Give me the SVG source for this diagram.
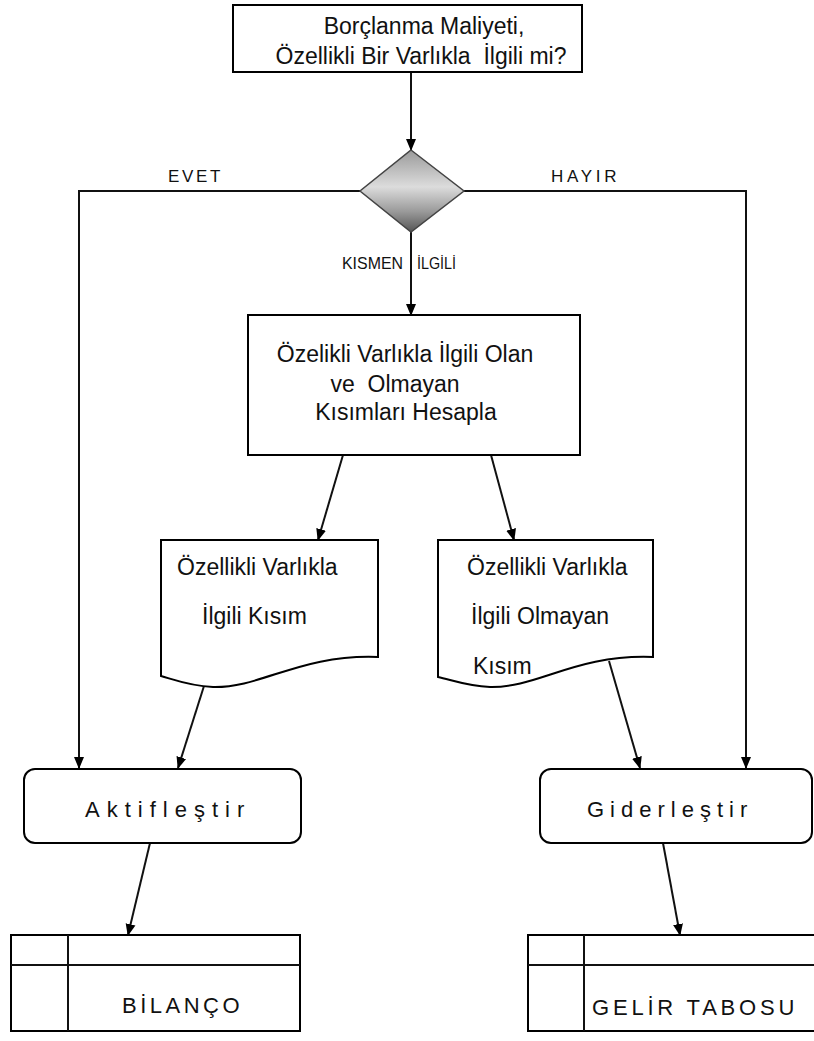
<svg xmlns="http://www.w3.org/2000/svg" width="814" height="1041" viewBox="0 0 814 1041">
<style>
.box{fill:#fff;stroke:#000;stroke-width:2}
.t{font-family:"Liberation Sans",Arial,sans-serif;font-size:23px;fill:#111;text-anchor:middle}
.tl{font-family:"Liberation Sans",Arial,sans-serif;font-size:23px;fill:#111}
.sp{font-family:"Liberation Sans",Arial,sans-serif;font-size:22px;fill:#111}
.lbl{font-family:"Liberation Sans",Arial,sans-serif;font-size:17px;fill:#111;letter-spacing:2.7px}
.ks{font-family:"Liberation Sans",Arial,sans-serif;font-size:17px;fill:#111}
.cn{fill:none;stroke:#111;stroke-width:2}
</style>
<defs>
<marker id="ah" markerUnits="userSpaceOnUse" markerWidth="12" markerHeight="12" viewBox="0 0 12 12" refX="11" refY="6" orient="auto">
<path d="M0,1 L12,6 L0,11 Z" fill="#000"/>
</marker>
<linearGradient id="dg" x1="0" y1="0" x2="0" y2="1">
<stop offset="0" stop-color="#9a9a9a"/>
<stop offset="0.45" stop-color="#dcdcdc"/>
<stop offset="0.75" stop-color="#9a9a9a"/>
<stop offset="1" stop-color="#555"/>
</linearGradient>
</defs>
<g id="connectors">
<line class="cn" x1="411" y1="72" x2="411" y2="150" marker-end="url(#ah)"/>
<polyline class="cn" points="360,191 79,191 79,768" marker-end="url(#ah)"/>
<polyline class="cn" points="464,191 746,191 746,768" marker-end="url(#ah)"/>
<line class="cn" x1="411" y1="232" x2="411" y2="315" marker-end="url(#ah)"/>
<line class="cn" x1="343" y1="455" x2="318" y2="540" marker-end="url(#ah)"/>
<line class="cn" x1="491" y1="455" x2="514" y2="540" marker-end="url(#ah)"/>
<line class="cn" x1="204" y1="686" x2="178" y2="768" marker-end="url(#ah)"/>
<line class="cn" x1="609" y1="661" x2="640" y2="768" marker-end="url(#ah)"/>
<line class="cn" x1="150" y1="843" x2="128" y2="935" marker-end="url(#ah)"/>
<line class="cn" x1="663" y1="843" x2="680" y2="935" marker-end="url(#ah)"/>
<text class="lbl" x="168" y="182">EVET</text>
<text class="lbl" x="551" y="182" style="letter-spacing:3.7px">HAYIR</text>
<text class="ks" x="342" y="269" textLength="61" lengthAdjust="spacingAndGlyphs">KISMEN</text>
<text class="ks" x="417" y="269" textLength="39" lengthAdjust="spacingAndGlyphs">İLGİLİ</text>
</g>
<g id="start">
<rect class="box" x="233" y="5" width="349" height="67"/>
<text class="t" x="424" y="34">Borçlanma Maliyeti,</text>
<text class="t" x="421" y="64" xml:space="preserve">Özellikli Bir Varlıkla  İlgili mi?</text>
</g>
<g id="decision">
<polygon points="411,150 464,191 411,232 360,191" fill="url(#dg)" stroke="#444" stroke-width="1.5"/>
</g>
<g id="calculate">
<rect class="box" x="248" y="315" width="332" height="140"/>
<text class="t" x="405" y="362">Özelikli Varlıkla İlgili Olan</text>
<text class="t" x="395" y="392" xml:space="preserve">ve  Olmayan</text>
<text class="t" x="406" y="420">Kısımları Hesapla</text>
</g>
<g id="doc-related">
<path class="box" d="M161,540 H378 V657 C300,654 262,688 213,687 C190,686 175,680 161,676 Z"/>
<text class="tl" x="177" y="575">Özellikli Varlıkla</text>
<text class="tl" x="202" y="624">İlgili Kısım</text>
</g>
<g id="doc-unrelated">
<path class="box" d="M438,540 H653 V657 C575,654 538,688 490,687 C467,686 452,680 438,677 Z"/>
<text class="tl" x="467" y="575">Özellikli Varlıkla</text>
<text class="tl" x="471" y="624">İlgili Olmayan</text>
<text class="tl" x="473" y="674">Kısım</text>
</g>
<g id="capitalize">
<rect class="box" x="24" y="769" width="277" height="74" rx="11"/>
<text class="sp" x="85" y="817" style="letter-spacing:7px">Aktifleştir</text>
</g>
<g id="expense">
<rect class="box" x="540" y="769" width="272" height="74" rx="11"/>
<text class="sp" x="587" y="817" style="letter-spacing:6px">Giderleştir</text>
</g>
<g id="balance">
<rect class="box" x="11" y="935" width="289" height="96"/>
<line class="cn" x1="11" y1="965" x2="300" y2="965"/>
<line class="cn" x1="68" y1="935" x2="68" y2="1031"/>
<text class="sp" x="122" y="1013" style="letter-spacing:3.5px">BİLANÇO</text>
</g>
<g id="income">
<rect class="box" x="528" y="935" width="290" height="96"/>
<line class="cn" x1="528" y1="965" x2="814" y2="965"/>
<line class="cn" x1="584" y1="935" x2="584" y2="1031"/>
<text class="sp" x="592" y="1015" style="letter-spacing:3.8px">GELİR TABOSU</text>
</g>
</svg>
